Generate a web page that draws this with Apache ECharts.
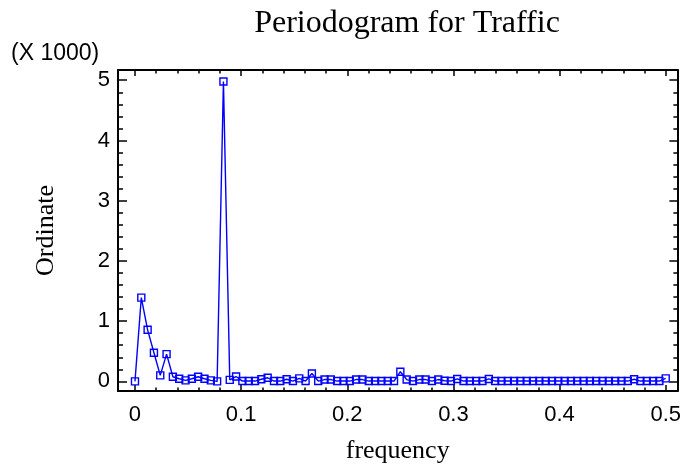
<!DOCTYPE html>
<html>
<head>
<meta charset="utf-8">
<script src="https://cdn.jsdelivr.net/npm/echarts@6/dist/echarts.min.js"></script>
<style>
  html, body { margin: 0; padding: 0; background: #fff; }
  #chart { width: 684px; height: 470px; }
</style>
</head>
<body>
<div id="chart"></div>
<script>
// periodogram ordinates, in units of 1000, at frequencies k/168 (k = 0..84)
const nObs = 168;
const ordinate = [
  0.0, 1.39, 0.856, 0.475, 0.10, 0.453, 0.077, 0.044, 0.017, 0.044,
  0.077, 0.044, 0.017, 0.0, 4.98, 0.025, 0.08, 0.005, 0.005, 0.005,
  0.035, 0.06, 0.005, 0.005, 0.035, 0.005, 0.05, 0.005, 0.13, 0.005,
  0.03, 0.03, 0.005, 0.005, 0.005, 0.03, 0.03, 0.005, 0.005, 0.005,
  0.005, 0.005, 0.16, 0.03, 0.005, 0.03, 0.03, 0.005, 0.03, 0.01,
  0.005, 0.04, 0.005, 0.005, 0.005, 0.005, 0.04, 0.005, 0.005, 0.005,
  0.005, 0.005, 0.005, 0.005, 0.005, 0.005, 0.005, 0.005, 0.005, 0.005,
  0.005, 0.005, 0.005, 0.005, 0.005, 0.005, 0.005, 0.005, 0.005, 0.035,
  0.005, 0.005, 0.005, 0.005, 0.05
];
const xTicks = [0, 0.1, 0.2, 0.3, 0.4, 0.5];
const yTicks = [0, 1, 2, 3, 4, 5];

// minor ticks: 0.02 on x, 0.2 on y
const xMinor = [];
for (let i = 1; i < 25; i++) if (i % 5) xMinor.push(Math.round(i * 2) / 100);
const yMinor = [];
for (let i = 1; i < 25; i++) if (i % 5) yMinor.push(Math.round(i * 2) / 10);

const points = ordinate.map((v, k) => [k / nObs, v]);

const X_MIN = -0.016, X_MAX = 0.511;
const Y_MIN = -0.16, Y_MAX = 5.17;
const sans = "Liberation Sans";
const serif = "Liberation Serif";

function xAx(pos, ticks, len, main) {
  return {
    type: "value", position: pos, min: X_MIN, max: X_MAX,
    axisLine: { show: main, onZero: false, lineStyle: { color: "#000", width: 2 } },
    axisTick: { show: true, inside: true, length: len, customValues: ticks,
      lineStyle: { color: "#000", width: 1.5 } },
    axisLabel: { show: false },
    splitLine: { show: false },
  };
}
function yAx(pos, ticks, len, main) {
  return {
    type: "value", position: pos, min: Y_MIN, max: Y_MAX,
    axisLine: { show: main, onZero: false, lineStyle: { color: "#000", width: 2 } },
    axisTick: { show: true, inside: true, length: len, customValues: ticks,
      lineStyle: { color: "#000", width: 1.5 } },
    axisLabel: { show: false },
    splitLine: { show: false },
  };
}

const xBottom = xAx("bottom", xTicks, 6, true);
xBottom.axisLabel = {
  show: true, customValues: xTicks, margin: 13,
  color: "#000", fontFamily: sans, fontSize: 22,
  formatter: (v) => String(v),
};
xBottom.name = "frequency";
xBottom.nameLocation = "middle";
xBottom.nameGap = 47;
xBottom.nameTextStyle = { color: "#000", fontFamily: serif, fontSize: 26 };

const yLeft = yAx("left", yTicks, 9, true);
yLeft.axisLabel = {
  show: true, customValues: yTicks, margin: 8,
  color: "#000", fontFamily: sans, fontSize: 22,
  formatter: (v) => String(v),
};
yLeft.name = "Ordinate";
yLeft.nameLocation = "middle";
yLeft.nameGap = 59;
yLeft.nameTextStyle = { color: "#000", fontFamily: serif, fontSize: 26 };

const option = {
  animation: false,
  backgroundColor: "#fff",
  title: [
    {
      text: "Periodogram for Traffic", left: 402, top: 3, textAlign: "center",
      textStyle: { fontFamily: serif, fontSize: 32, fontWeight: "normal", color: "#000" },
    },
    {
      text: "(X 1000)", left: 6, top: 37,
      textStyle: { fontFamily: sans, fontSize: 23, fontWeight: "normal", color: "#000" },
    },
  ],
  grid: { left: 118, right: 5, top: 70, bottom: 79, containLabel: false },
  xAxis: [
    xBottom,
    xAx("bottom", xMinor, 3.5, false),
    xAx("top", xTicks, 6, true),
    xAx("top", xMinor, 3.5, false),
  ],
  yAxis: [
    yLeft,
    yAx("left", yMinor, 5, false),
    yAx("right", yTicks, 8, true),
    yAx("right", yMinor, 4, false),
  ],
  series: [
    {
      type: "line",
      xAxisIndex: 0,
      yAxisIndex: 0,
      data: points,
      symbol: "rect",
      symbolSize: 7,
      showAllSymbol: true,
      clip: false,
      lineStyle: { color: "#0000ff", width: 1.4 },
      itemStyle: { color: "rgba(0,0,0,0)", borderColor: "#0000ff", borderWidth: 1.4 },
      emphasis: { disabled: true },
    },
  ],
};

const myChart = echarts.init(document.getElementById("chart"), null, { renderer: "canvas" });
myChart.setOption(option);
</script>
</body>
</html>
